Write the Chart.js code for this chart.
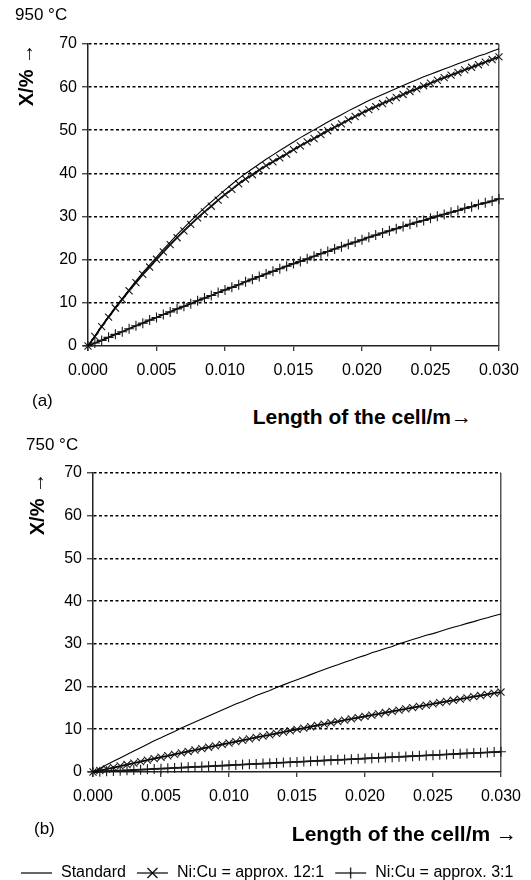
<!DOCTYPE html>
<html>
<head>
<meta charset="utf-8">
<title>Conversion along the cell</title>
<script src="https://cdn.jsdelivr.net/npm/chart.js@4.4.1/dist/chart.umd.min.js"></script>
<style>
  html, body { margin: 0; padding: 0; background: #fff; width: 531px; height: 880px; overflow: hidden; }
  body { position: relative; font-family: "Liberation Sans", Arial, sans-serif; color: #000; }
  canvas { position: absolute; left: 0; z-index: 1; }
  .lbl { position: absolute; white-space: nowrap; line-height: 1; z-index: 2; }
  .temp { font-size: 17px; }
  .part { font-size: 17px; }
  .xtitle { font-size: 21px; font-weight: bold; }
  .xtitle span { font-weight: normal; }
</style>
</head>
<body>
<div class="lbl temp" style="left:15px; top:6px;">950 °C</div>
<canvas id="cell-950" width="531" height="400" style="top:0"></canvas>
<div class="lbl part" style="left:32px; top:392px;">(a)</div>
<div class="lbl xtitle" style="right:59px; top:406px;">Length of the cell/m<span>→</span></div>

<div class="lbl temp" style="left:26px; top:436px;">750 °C</div>
<canvas id="cell-750" width="531" height="461" style="top:430px"></canvas>
<div class="lbl part" style="left:34px; top:820px;">(b)</div>
<div class="lbl xtitle" style="right:14px; top:823px;">Length of the cell/m <span>→</span></div>

<script>
// length of the cell (m)
var lengthM = [0, 0.0005, 0.001, 0.0015, 0.002, 0.0025, 0.003, 0.0035, 0.004, 0.0045,
  0.005, 0.0055, 0.006, 0.0065, 0.007, 0.0075, 0.008, 0.0085, 0.009, 0.0095,
  0.01, 0.0105, 0.011, 0.0115, 0.012, 0.0125, 0.013, 0.0135, 0.014, 0.0145,
  0.015, 0.0155, 0.016, 0.0165, 0.017, 0.0175, 0.018, 0.0185, 0.019, 0.0195,
  0.02, 0.0205, 0.021, 0.0215, 0.022, 0.0225, 0.023, 0.0235, 0.024, 0.0245,
  0.025, 0.0255, 0.026, 0.0265, 0.027, 0.0275, 0.028, 0.0285, 0.029, 0.0295,
  0.03];

var seriesNames = ["Standard", "Ni:Cu = approx. 12:1", "Ni:Cu = approx. 3:1"];

// X/% at 950 °C
var std950 = [0, 2.3, 4.6, 6.8, 9.0, 11.0, 13.1, 15.1, 17.0, 18.8,
  20.6, 22.4, 24.1, 25.8, 27.4, 29.0, 30.5, 32.0, 33.4, 34.8,
  36.2, 37.5, 38.8, 40.0, 41.1, 42.2, 43.3, 44.3, 45.3, 46.3,
  47.3, 48.3, 49.2, 50.1, 51.0, 51.9, 52.8, 53.6, 54.5, 55.3,
  56.1, 56.9, 57.6, 58.3, 59.0, 59.7, 60.4, 61.1, 61.7, 62.4,
  63.0, 63.6, 64.2, 64.8, 65.4, 66.0, 66.6, 67.2, 67.7, 68.3,
  68.9];
var ni12_950 = [0, 2.2, 4.5, 6.7, 8.8, 10.8, 12.8, 14.7, 16.6, 18.3,
  20.1, 21.8, 23.5, 25.1, 26.7, 28.2, 29.7, 31.1, 32.4, 33.8,
  35.1, 36.3, 37.6, 38.7, 39.7, 40.8, 41.8, 42.7, 43.6, 44.5,
  45.5, 46.4, 47.3, 48.1, 49.0, 49.9, 50.7, 51.5, 52.4, 53.2,
  54.0, 54.8, 55.5, 56.2, 56.9, 57.6, 58.3, 59.0, 59.6, 60.3,
  60.9, 61.6, 62.2, 62.8, 63.4, 64.0, 64.6, 65.2, 65.8, 66.4,
  67.0];
var ni3_950 = [0, 0.7, 1.3, 2.0, 2.7, 3.3, 4.0, 4.7, 5.3, 6.0,
  6.6, 7.3, 7.9, 8.6, 9.2, 9.8, 10.5, 11.1, 11.7, 12.4,
  13.0, 13.6, 14.2, 14.9, 15.5, 16.1, 16.7, 17.3, 17.9, 18.5,
  19.1, 19.6, 20.2, 20.8, 21.4, 21.9, 22.5, 23.0, 23.6, 24.1,
  24.6, 25.2, 25.7, 26.2, 26.7, 27.2, 27.7, 28.2, 28.7, 29.1,
  29.6, 30.1, 30.5, 31.0, 31.4, 31.9, 32.3, 32.8, 33.2, 33.6,
  34.1];

// X/% at 750 °C
var std750 = [0, 0.8, 1.7, 2.5, 3.3, 4.1, 4.9, 5.7, 6.5, 7.3,
  8.0, 8.8, 9.5, 10.3, 11.0, 11.7, 12.4, 13.1, 13.8, 14.5,
  15.2, 15.9, 16.5, 17.2, 17.9, 18.5, 19.1, 19.8, 20.4, 21.0,
  21.6, 22.2, 22.8, 23.4, 24.0, 24.6, 25.1, 25.7, 26.2, 26.8,
  27.3, 27.9, 28.4, 28.9, 29.4, 30.0, 30.5, 31.0, 31.5, 32.0,
  32.4, 32.9, 33.4, 33.9, 34.3, 34.8, 35.2, 35.7, 36.1, 36.6,
  37.0];
var ni12_750 = [0, 0.35, 0.70, 1.05, 1.40, 1.75, 2.09, 2.44, 2.78, 3.12,
  3.46, 3.80, 4.14, 4.47, 4.81, 5.14, 5.47, 5.80, 6.13, 6.46,
  6.78, 7.11, 7.43, 7.75, 8.08, 8.40, 8.71, 9.03, 9.35, 9.66,
  9.97, 10.28, 10.60, 10.90, 11.21, 11.52, 11.82, 12.13, 12.43, 12.73,
  13.03, 13.33, 13.62, 13.92, 14.21, 14.50, 14.79, 15.08, 15.37, 15.66,
  15.94, 16.23, 16.51, 16.79, 17.07, 17.35, 17.63, 17.90, 18.18, 18.45,
  18.72];
var ni3_750 = [0, 0.08, 0.16, 0.24, 0.32, 0.40, 0.47, 0.55, 0.63, 0.71,
  0.79, 0.87, 0.95, 1.03, 1.11, 1.19, 1.26, 1.34, 1.42, 1.50,
  1.58, 1.66, 1.74, 1.82, 1.90, 1.98, 2.05, 2.13, 2.21, 2.29,
  2.37, 2.45, 2.53, 2.61, 2.69, 2.77, 2.84, 2.92, 3.00, 3.08,
  3.16, 3.24, 3.32, 3.40, 3.48, 3.56, 3.63, 3.71, 3.79, 3.87,
  3.95, 4.03, 4.11, 4.19, 4.27, 4.35, 4.42, 4.50, 4.58, 4.66,
  4.74];

Chart.defaults.font.family = '"Liberation Sans", Arial, sans-serif';
Chart.defaults.color = '#000';
Chart.defaults.animation = false;

function toPoints(ys) {
  return lengthM.map(function (x, i) { return { x: x, y: ys[i] }; });
}

// little line+marker pictures for the legend
function legendSample(marker) {
  var c = document.createElement('canvas');
  c.width = 33; c.height = 12;
  var g = c.getContext('2d');
  g.strokeStyle = '#000';
  g.lineWidth = 1.2;
  g.beginPath(); g.moveTo(1, 6); g.lineTo(32, 6); g.stroke();
  g.beginPath();
  if (marker === 'crossRot') { g.moveTo(11.5, 1); g.lineTo(21.5, 11); g.moveTo(21.5, 1); g.lineTo(11.5, 11); }
  if (marker === 'cross') { g.moveTo(16.5, 0.5); g.lineTo(16.5, 11.5); }
  g.stroke();
  return c;
}

function cellChart(canvasId, std, ni12, ni3, frame) {
  var ctx = document.getElementById(canvasId).getContext('2d');
  var samples = [legendSample('none'), legendSample('crossRot'), legendSample('cross')];

  var datasets = [
    { label: seriesNames[0], data: toPoints(std), borderColor: '#000', borderWidth: 1.1, pointRadius: 0 },
    { label: seriesNames[1], data: toPoints(ni12), borderColor: '#000', borderWidth: 1.8,
      pointStyle: 'crossRot', pointRadius: 5, pointBorderWidth: 1.1, pointBorderColor: '#1a1a1a' },
    { label: seriesNames[2], data: toPoints(ni3), borderColor: '#000', borderWidth: 1.8,
      pointStyle: 'cross', pointRadius: 5, pointBorderWidth: 1.1, pointBorderColor: '#1a1a1a' }
  ];

  var scales = {
    x: {
      type: 'linear', min: 0, max: 0.03,
      afterFit: function (s) { s.height = frame.xHeight; },
      ticks: { stepSize: 0.005, autoSkip: false, maxRotation: 0, padding: 10, font: { size: 16 },
        callback: function (v) { return v.toFixed(3); } },
      grid: {
        color: function (c) { return c.tick && Math.abs(c.tick.value - 0.03) < 1e-9 ? '#555' : 'rgba(0,0,0,0)'; },
        lineWidth: 1.5, tickLength: 5, tickWidth: 1, tickColor: '#000'
      },
      border: { color: '#222', width: 1.5 }
    },
    y: {
      min: 0, max: 70,
      afterFit: function (s) { s.width = frame.yWidth; },
      ticks: { stepSize: 10, padding: 5, font: { size: 16 } },
      grid: {
        color: function (c) { return c.index === 0 ? 'rgba(0,0,0,0)' : '#000'; },
        lineWidth: 1.6, tickLength: 6, tickWidth: 1, tickColor: '#000'
      },
      border: { color: '#222', width: 1.5, dash: [3, 2.5] },
      title: { display: true, text: 'X/% →', align: 'end', color: '#000',
        font: { size: 20, weight: 'bold' }, padding: { top: frame.titlePad, bottom: 0 } }
    }
  };
  if (frame.rightGap) {
    // empty right-hand axis, only to leave room beside the plot
    scales.gap = { position: 'right', afterFit: function (s) { s.width = frame.rightGap; },
      ticks: { display: false }, grid: { display: false }, border: { display: false } };
  }

  return new Chart(ctx, {
    type: 'line',
    data: { datasets: datasets },
    options: {
      responsive: false,
      events: [],
      layout: { padding: frame.padding },
      datasets: { line: { clip: 8 } },
      scales: scales,
      plugins: {
        tooltip: { enabled: false },
        legend: {
          display: frame.legend,
          position: 'bottom',
          align: 'start',
          labels: {
            usePointStyle: true, pointStyleWidth: 33, padding: 10, color: '#000', font: { size: 16 },
            generateLabels: function (chart) {
              return chart.data.datasets.map(function (ds, i) {
                return { text: ds.label, pointStyle: samples[i], fillStyle: '#000', strokeStyle: '#000',
                  lineWidth: 0, hidden: false, datasetIndex: i, fontColor: '#000' };
              });
            }
          }
        }
      }
    }
  });
}

cellChart('cell-950', std950, ni12_950, ni3_950, {
  padding: { left: 0, right: 32, top: 44, bottom: 0 },
  yWidth: 88, xHeight: 54, titlePad: 15, legend: false, rightGap: 0
});

cellChart('cell-750', std750, ni12_750, ni3_750, {
  padding: { left: 10, right: 0, top: 43, bottom: 0 },
  yWidth: 83, xHeight: 83, titlePad: 16, legend: true, rightGap: 27
});
</script>
</body>
</html>
